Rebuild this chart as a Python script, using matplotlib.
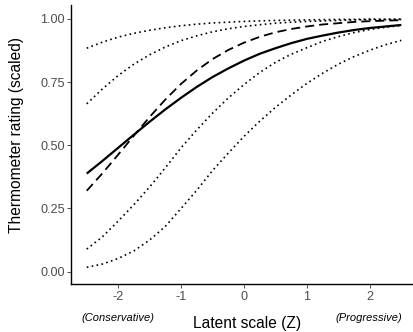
import matplotlib
matplotlib.use("Agg")
import matplotlib.pyplot as plt

# Latent position grid and the predicted thermometer ratings along it
z = [-2.5, -2.25, -2.0, -1.75, -1.5, -1.25, -1.0, -0.75, -0.5, -0.25, 0.0,
     0.25, 0.5, 0.75, 1.0, 1.25, 1.5, 1.75, 2.0, 2.25, 2.5]
mean_curve = [0.388, 0.438, 0.490, 0.542, 0.593, 0.642, 0.688, 0.731, 0.770, 0.804, 0.835,
              0.862, 0.884, 0.904, 0.921, 0.934, 0.946, 0.956, 0.964, 0.970, 0.976]
alt_curve = [0.320, 0.389, 0.463, 0.538, 0.612, 0.681, 0.743, 0.796, 0.841, 0.877, 0.906,
             0.929, 0.947, 0.960, 0.970, 0.978, 0.983, 0.988, 0.991, 0.993, 0.995]
upper_outer = [0.884, 0.908, 0.928, 0.943, 0.955, 0.965, 0.973, 0.979, 0.984, 0.987, 0.990,
               0.992, 0.994, 0.995, 0.996, 0.997, 0.998, 0.998, 0.999, 0.999, 0.999]
upper_inner = [0.664, 0.723, 0.776, 0.821, 0.858, 0.889, 0.914, 0.933, 0.949, 0.961, 0.970,
               0.977, 0.983, 0.987, 0.990, 0.992, 0.994, 0.996, 0.997, 0.997, 0.998]
lower_inner = [0.089, 0.138, 0.200, 0.265, 0.335, 0.411, 0.490, 0.561, 0.627, 0.687, 0.740,
               0.788, 0.828, 0.860, 0.886, 0.911, 0.930, 0.946, 0.958, 0.967, 0.974]
lower_outer = [0.017, 0.030, 0.052, 0.082, 0.125, 0.179, 0.250, 0.322, 0.400, 0.469, 0.535,
               0.595, 0.650, 0.699, 0.745, 0.785, 0.821, 0.851, 0.876, 0.898, 0.915]

x_ticks = [-2, -1, 0, 1, 2]
x_tick_labels = ["-2", "-1", "0", "1", "2"]
y_ticks = [0.00, 0.25, 0.50, 0.75, 1.00]
y_tick_labels = ["0.00", "0.25", "0.50", "0.75", "1.00"]

plt.rcParams["font.family"] = ["Liberation Sans", "DejaVu Sans"]

W, H = 413, 332
fig = plt.figure(figsize=(W / 100, H / 100), dpi=100)
ax = fig.add_axes([71 / W, 48 / H, 346 / W, 279 / H])

dot_style = dict(color="black", lw=1.2, dashes=(1, 2), dash_capstyle="butt")
for band in (upper_outer, upper_inner, lower_inner, lower_outer):
    ax.plot(z, band, **dot_style)

ax.plot(z, alt_curve, color="black", lw=1.3, dashes=(5, 2.8), dash_capstyle="butt")
ax.plot(z, mean_curve, color="black", lw=1.6, solid_capstyle="butt")

ax.set_xlim(-2.75, 2.75)
ax.set_ylim(-0.049, 1.055)
ax.set_xticks(x_ticks)
ax.set_xticklabels(x_tick_labels)
ax.set_yticks(y_ticks)
ax.set_yticklabels(y_tick_labels)

for side in ("top", "right"):
    ax.spines[side].set_visible(False)
for side in ("left", "bottom"):
    ax.spines[side].set_color("black")
    ax.spines[side].set_linewidth(1.0)

ax.tick_params(axis="both", length=2.8, width=0.6, color="#333333",
               labelcolor="#4d4d4d", labelsize=9.1)
ax.tick_params(axis="x", pad=2.3)
ax.tick_params(axis="y", pad=1.5)

fig.text(16.5 / W, 1 - 135 / H, "Thermometer rating (scaled)", rotation=90,
         ha="center", va="center", fontsize=11.2, color="black")

# End labels for the latent scale
fig.text(118 / W, 1 - 318 / H, "(Conservative)", ha="center", va="center",
         fontsize=8.0, style="italic", color="black")
fig.text(369 / W, 1 - 318 / H, "(Progressive)", ha="center", va="center",
         fontsize=8.0, style="italic", color="black")
fig.text(247 / W, 1 - 328 / H, "Latent scale (Z)", ha="center", va="baseline",
         fontsize=11.2, color="black")

fig.savefig("out.png", dpi=100)
